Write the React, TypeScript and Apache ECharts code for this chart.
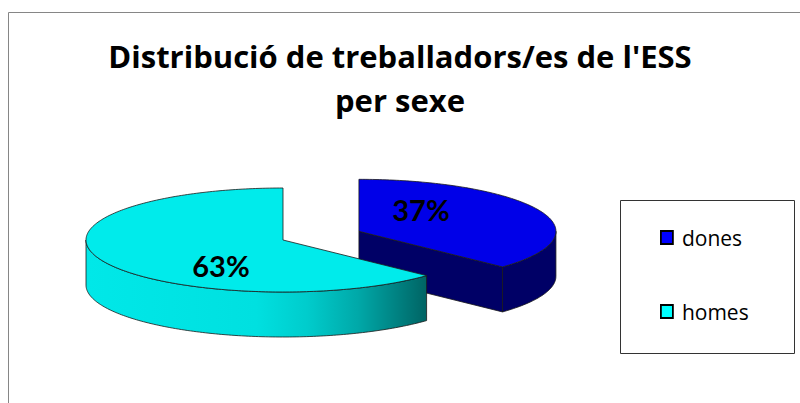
import React, { useEffect, useRef } from "react";
import * as echarts from "echarts";

// ---- data ----
const categories = ["dones", "homes"];
const values = [37, 63];
const titleLines = ["Distribució de treballadors/es de l'ESS", "per sexe"];

// ---- style / layout ----
const topColors = ["#0000E8", "#00EBEB"];
const legendColors = ["#0000FF", "#00FFFF"];
const faceColors = ["#000066", "#006464"];
const sideStops = [
  [
    { offset: 0, color: "#000066" },
    { offset: 1, color: "#000066" },
  ],
  [
    { offset: 0, color: "#00E8E8" },
    { offset: 0.5, color: "#00E0E0" },
    { offset: 0.65, color: "#00CCCC" },
    { offset: 0.8, color: "#00A8A8" },
    { offset: 1, color: "#006464" },
  ],
];
const CX = 283;
const CY = 240;
const RX = 197;
const RY = 52;
const DEPTH = 45;
const EXPLODE = [0.42, 0];
const LABEL_RX = 0.343;
const LABEL_RY = 1.16;
const FONT = "Lato, 'Open Sans', sans-serif";
const FONT2 = "'Open Sans', Lato, sans-serif";

const toRad = (d: number) => (d * Math.PI) / 180;

function renderSlice(i: number) {
  return (_params: any, api: any) => {
    const total = values.reduce((s, x) => s + x, 0);
    let before = 0;
    for (let k = 0; k < i; k++) before += values[k];
    const v = api.value(0) as number;
    // slices start at 12 o'clock, clockwise
    const thB = 90 - (before / total) * 360;
    const thA = 90 - ((before + v) / total) * 360;
    const mid = toRad((thA + thB) / 2);
    const cx = CX + EXPLODE[i] * RX * Math.cos(mid);
    const cy = CY - EXPLODE[i] * RY * Math.sin(mid);
    const P = (deg: number, dy = 0) => [
      cx + RX * Math.cos(toRad(deg)),
      cy - RY * Math.sin(toRad(deg)) + dy,
    ];
    const arc = (from: number, to: number, dy = 0) => {
      const pts: number[][] = [];
      const n = Math.max(2, Math.ceil(Math.abs(to - from)));
      for (let j = 0; j <= n; j++) pts.push(P(from + ((to - from) * j) / n, dy));
      return pts;
    };
    const edge = { stroke: "#1b1b1b", lineWidth: 0.8, lineJoin: "round" };
    const children: any[] = [];
    const faceAt = (th: number, normal: number) => {
      if (Math.sin(toRad(normal)) < -0.01) {
        children.push({
          type: "polygon",
          shape: { points: [[cx, cy], P(th), P(th, DEPTH), [cx, cy + DEPTH]] },
          style: { fill: faceColors[i], ...edge },
        });
      }
    };
    faceAt(thA, thA - 90);
    faceAt(thB, thB + 90);
    for (let k = -1; k <= 1; k++) {
      const lo = Math.max(thA, -180 + 360 * k);
      const hi = Math.min(thB, 360 * k);
      if (hi > lo) {
        const pts = [...arc(lo, hi), ...arc(hi, lo, DEPTH)];
        children.push({
          type: "polygon",
          shape: { points: pts },
          style: {
            fill: new echarts.graphic.LinearGradient(0, 0, 1, 0, sideStops[i]),
            ...edge,
          },
        });
      }
    }
    children.push({
      type: "polygon",
      shape: { points: [[cx, cy], ...arc(thA, thB)] },
      style: { fill: topColors[i], ...edge },
    });
    children.push({
      type: "text",
      x: cx + LABEL_RX * RX * Math.cos(mid),
      y: cy + 2 - LABEL_RY * RY * Math.sin(mid),
      style: {
        text: Math.round((v / total) * 100) + "%",
        fill: "#000",
        fontSize: 29,
        fontWeight: "bold",
        fontFamily: FONT,
        align: "center",
        verticalAlign: "middle",
      },
    });
    return { type: "group", children };
  };
}

export default function App() {
  const ref = useRef<HTMLDivElement>(null);
  useEffect(() => {
    document.body.style.margin = "0";
    if (!ref.current) return;
    const chart = echarts.init(ref.current, undefined, { renderer: "svg" });
    chart.setOption({
      animation: false,
      backgroundColor: "#fff",
      title: {
        text: titleLines.join("\n"),
        left: "center",
        top: 29,
        textStyle: {
          fontSize: 31,
          fontWeight: "bold",
          fontFamily: FONT2,
          color: "#000",
          lineHeight: 44,
        },
      },
      legend: {
        data: categories,
        orient: "vertical",
        left: 660,
        top: 227,
        padding: 0,
        itemGap: 53,
        icon: "rect",
        itemWidth: 12,
        itemHeight: 13,
        itemStyle: { borderColor: "#000", borderWidth: 1.8 },
        textStyle: {
          fontSize: 21,
          fontFamily: FONT2,
          color: "#000",
          padding: [0, 0, 0, 4],
        },
      },
      graphic: [
        {
          type: "rect",
          z: -10,
          shape: { x: 8.5, y: 12.5, width: 900, height: 600 },
          style: { fill: "none", stroke: "#868686", lineWidth: 1 },
        },
        {
          type: "rect",
          z: -10,
          shape: { x: 620.5, y: 200.5, width: 174, height: 153 },
          style: { fill: "none", stroke: "#333", lineWidth: 1 },
        },
      ],
      series: categories.map((name, i) => ({
        type: "custom",
        name,
        coordinateSystem: "none",
        renderItem: renderSlice(i),
        data: [values[i]],
        itemStyle: { color: legendColors[i] },
        z: 2 + i,
      })),
    });
    return () => chart.dispose();
  }, []);
  return <div ref={ref} style={{ width: 800, height: 403 }} />;
}
